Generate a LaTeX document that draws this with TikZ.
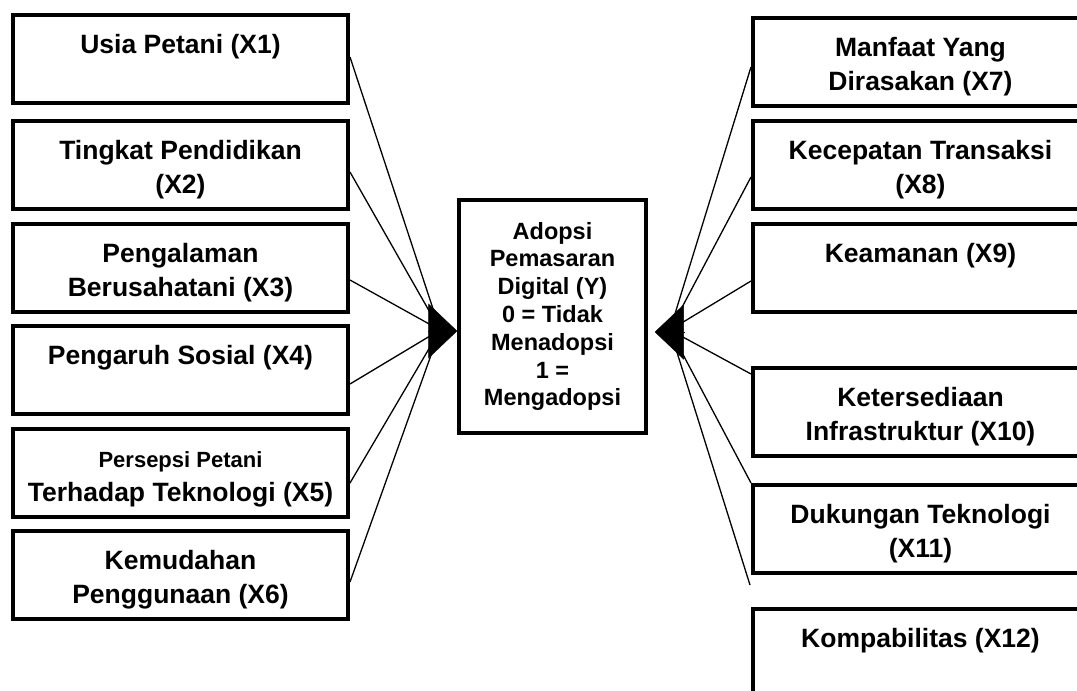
\documentclass[tikz,border=0pt]{standalone}
\usepackage{fontspec}
\setmainfont{Liberation Sans}
\usetikzlibrary{arrows.meta}
\newcommand{\bt}[1]{\parbox[c][88pt][t]{335pt}{\centering\rule{0pt}{38.5pt}#1}}
\begin{document}
\begin{tikzpicture}[x=1pt,y=-1pt,
  vbox/.style={draw, line width=4pt, inner sep=0pt, minimum width=335pt, minimum height=88pt, anchor=north west,
    font=\fontsize{26.5}{33.5}\selectfont\bfseries},
  ybox/.style={draw, line width=3.5pt, inner sep=0pt, minimum width=187pt, minimum height=233pt, align=center,
    font=\fontsize{23.5}{27.8}\selectfont\bfseries},
  conn/.style={line width=1.3pt},
  head/.style={-{Triangle[length=29pt,width=55pt]}, line width=0.5pt}]
\clip (0,0) rectangle (1077,691);
% left boxes
\node[vbox] (x1) at (11,13)  {\bt{Usia Petani (X1)}};
\node[vbox] (x2) at (11,119) {\bt{Tingkat Pendidikan\\(X2)}};
\node[vbox] (x3) at (11,222) {\bt{Pengalaman\\Berusahatani (X3)}};
\node[vbox] (x4) at (11,324) {\bt{Pengaruh Sosial (X4)}};
\node[vbox] (x5) at (11,427) {\bt{{\fontsize{22}{33.5}\selectfont Persepsi Petani}\\Terhadap Teknologi (X5)}};
\node[vbox] (x6) at (11,529) {\bt{Kemudahan\\Penggunaan (X6)}};
% right boxes
\node[vbox] (x7)  at (751,16)  {\bt{Manfaat Yang\\Dirasakan (X7)}};
\node[vbox] (x8)  at (751,119) {\bt{Kecepatan Transaksi\\(X8)}};
\node[vbox] (x9)  at (751,222) {\bt{Keamanan (X9)}};
\node[vbox] (x10) at (751,366) {\bt{Ketersediaan\\Infrastruktur (X10)}};
\node[vbox] (x11) at (751,483) {\bt{Dukungan Teknologi\\(X11)}};
\node[vbox] (x12) at (751,607) {\bt{Kompabilitas (X12)}};
% centre box
\node[ybox] (y) at (552.5,316.5) {Adopsi\\Pemasaran\\Digital (Y)\\0 = Tidak\\Menadopsi\\1 =\\Mengadopsi};
% hubs
\coordinate (hl) at (440,330);
\coordinate (hr) at (670,330);
\coordinate (e12) at (750,585);
% connectors left
\draw[conn] ([yshift=-44pt]x1.north east) -- (hl);
\draw[conn] ([yshift=-53pt]x2.north east) -- (hl);
\draw[conn] ([yshift=-58pt]x3.north east) -- (hl);
\draw[conn] ([yshift=-60pt]x4.north east) -- (hl);
\draw[conn] ([yshift=-56pt]x5.north east) -- (hl);
\draw[conn] ([yshift=-53pt]x6.north east) -- (hl);
% connectors right
\draw[conn] (hr) -- ([yshift=-51pt]x7.north west);
\draw[conn] (hr) -- ([yshift=-58pt]x8.north west);
\draw[conn] (hr) -- ([yshift=-59pt]x9.north west);
\draw[conn] (hr) -- ([yshift=-8pt]x10.north west);
\draw[conn] (hr) -- (x11.north west);
\draw[conn] (hr) -- (e12);
% arrowheads
\draw[head] ([xshift=-29pt,yshift=-14.5pt]y.west) -- ([yshift=-14.5pt]y.west);
\draw[head] ([xshift=37pt,yshift=-15.5pt]y.east) -- ([xshift=7pt,yshift=-15.5pt]y.east);
\end{tikzpicture}
\end{document}
